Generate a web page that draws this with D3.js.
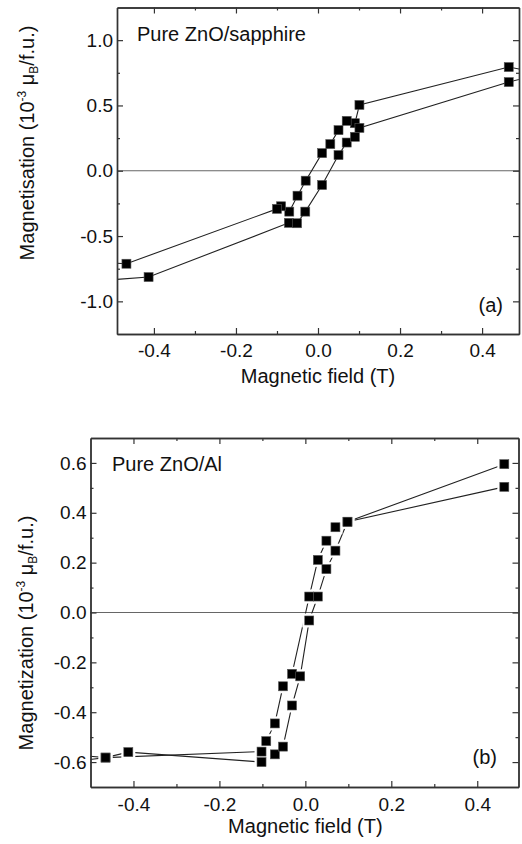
<!DOCTYPE html>
<html>
<head>
<meta charset="utf-8">
<script src="https://cdn.jsdelivr.net/npm/d3@7"></script>
<style>
  body { margin: 0; background: #fff; }
  svg { display: block; font-family: "Liberation Sans", Arial, sans-serif; }
  .axis path, .axis line { stroke: #333; }
  .axis text { font-size: 19px; fill: #111; font-family: "Liberation Sans", Arial, sans-serif; }
</style>
</head>
<body>
<svg id="chart"></svg>
<script>
var width = 522;
var height = 844;

// (a) pure ZnO on sapphire, field sweep down then up (first/last points sit past the frame)
var fieldA_down = [0.55, 0.465, 0.101, 0.09, 0.07, 0.05, 0.03, 0.01, -0.03, -0.05, -0.07, -0.09, -0.10, -0.467, -0.55];
var magA_down   = [0.745, 0.794, 0.504, 0.364, 0.382, 0.311, 0.204, 0.135, -0.076, -0.191, -0.313, -0.272, -0.292, -0.712, -0.70];
var fieldA_up   = [-0.55, -0.413, -0.071, -0.051, -0.031, 0.01, 0.05, 0.07, 0.09, 0.101, 0.465, 0.55];
var magA_up     = [-0.845, -0.814, -0.399, -0.402, -0.313, -0.109, 0.120, 0.216, 0.260, 0.328, 0.679, 0.745];

// (b) pure ZnO on Al
var fieldB_down = [0.463, 0.098, 0.070, 0.049, 0.029, 0.009, -0.031, -0.052, -0.071, -0.091, -0.102, -0.465, -0.55];
var magB_down   = [0.595, 0.364, 0.342, 0.288, 0.211, 0.064, -0.246, -0.296, -0.445, -0.516, -0.558, -0.582, -0.600];
var fieldB_up   = [-0.55, -0.465, -0.412, -0.102, -0.071, -0.052, -0.031, -0.012, 0.009, 0.029, 0.049, 0.070, 0.098, 0.463];
var magB_up     = [-0.570, -0.582, -0.560, -0.600, -0.569, -0.538, -0.373, -0.256, -0.032, 0.064, 0.174, 0.248, 0.364, 0.504];

var xMajor = [-0.4, -0.2, 0.0, 0.2, 0.4];
var xMinor = [-0.3, -0.1, 0.1, 0.3];
var yMajorA = [-1.0, -0.5, 0.0, 0.5, 1.0];
var yMinorA = [-0.75, -0.25, 0.25, 0.75];
var yMajorB = [-0.6, -0.4, -0.2, 0.0, 0.2, 0.4, 0.6];
var yMinorB = [-0.5, -0.3, -0.1, 0.1, 0.3, 0.5];

var svg = d3.select('#chart').attr('width', width).attr('height', height);

function zip(xs, ys) {
  return xs.map(function(d, i) { return [d, ys[i]]; });
}

drawPanel({
  id: 'a',
  left: 117, right: 519, top: 7.5, bottom: 334,
  xDomain: [-0.49, 0.49], yDomain: [-1.25, 1.25],
  yMajor: yMajorA, yMinor: yMinorA,
  series: [zip(fieldA_down, magA_down), zip(fieldA_up, magA_up)],
  gap: false,
  yWord: 'Magnetisation', yLabelX: 34, yLabelY: 143,
  xTitleY: 383, tickPad: 10,
  name: 'Pure ZnO/sapphire', nameX: 137, nameY: 41,
  tag: '(a)', tagX: 503, tagY: 312
});

drawPanel({
  id: 'b',
  left: 90.5, right: 518.5, top: 438, bottom: 787,
  xDomain: [-0.5, 0.496], yDomain: [-0.7, 0.7],
  yMajor: yMajorB, yMinor: yMinorB,
  series: [zip(fieldB_down, magB_down), zip(fieldB_up, magB_up)],
  gap: true,
  yWord: 'Magnetization', yLabelX: 33, yLabelY: 633,
  xTitleY: 833, tickPad: 11,
  name: 'Pure ZnO/Al', nameX: 112, nameY: 471,
  tag: '(b)', tagX: 497, tagY: 764
});

function drawPanel(p) {
  var x = d3.scaleLinear().domain(p.xDomain).range([p.left, p.right]);
  var y = d3.scaleLinear().domain(p.yDomain).range([p.bottom, p.top]);
  var g = svg.append('g').attr('id', 'panel' + p.id);

  g.append('clipPath').attr('id', 'clip' + p.id)
    .append('rect')
    .attr('x', p.left).attr('y', p.top)
    .attr('width', p.right - p.left).attr('height', p.bottom - p.top);

  // zero line
  g.append('line')
    .attr('x1', p.left).attr('x2', p.right)
    .attr('y1', y(0)).attr('y2', y(0))
    .attr('stroke', '#666').attr('stroke-width', 1.2);

  var plot = g.append('g').attr('clip-path', 'url(#clip' + p.id + ')');
  var line = d3.line().x(function(d) { return x(d[0]); }).y(function(d) { return y(d[1]); });

  p.series.forEach(function(s) {
    plot.append('path').datum(s)
      .attr('d', line)
      .attr('fill', 'none')
      .attr('stroke', '#222')
      .attr('stroke-width', 1.1);
  });

  var sz = 9;
  p.series.forEach(function(s) {
    if (p.gap) {
      plot.selectAll(null).data(s).enter().append('rect')
        .attr('x', function(d) { return x(d[0]) - sz / 2 - 2.5; })
        .attr('y', function(d) { return y(d[1]) - sz / 2 - 2.5; })
        .attr('width', sz + 5).attr('height', sz + 5)
        .attr('fill', '#fff');
    }
  });
  p.series.forEach(function(s) {
    plot.selectAll(null).data(s).enter().append('rect')
      .attr('x', function(d) { return x(d[0]) - sz / 2; })
      .attr('y', function(d) { return y(d[1]) - sz / 2; })
      .attr('width', sz).attr('height', sz)
      .attr('fill', '#000')
      .attr('stroke', '#555').attr('stroke-width', 0.6);
  });

  // axes, ticks pointing inward on all four sides
  var fmt = function(v) { return d3.format('.1f')(v).replace('\u2212', '-'); };
  function put(axis, tx, ty) {
    var a = g.append('g').attr('class', 'axis')
      .attr('transform', 'translate(' + tx + ',' + ty + ')')
      .call(axis);
    a.selectAll('path').attr('stroke-width', 1.4);
    a.selectAll('line').attr('stroke-width', 1.2);
    return a;
  }
  put(d3.axisBottom(x).tickValues(xMajor).tickFormat(fmt).tickSizeInner(-6).tickSizeOuter(0).tickPadding(p.tickPad), 0, p.bottom);
  put(d3.axisBottom(x).tickValues(xMinor).tickFormat('').tickSizeInner(-3).tickSizeOuter(0), 0, p.bottom);
  put(d3.axisTop(x).tickValues(xMajor).tickFormat('').tickSizeInner(-6).tickSizeOuter(0), 0, p.top);
  put(d3.axisTop(x).tickValues(xMinor).tickFormat('').tickSizeInner(-3).tickSizeOuter(0), 0, p.top);
  put(d3.axisLeft(y).tickValues(p.yMajor).tickFormat(fmt).tickSizeInner(-6).tickSizeOuter(0).tickPadding(4), p.left, 0);
  put(d3.axisLeft(y).tickValues(p.yMinor).tickFormat('').tickSizeInner(-3).tickSizeOuter(0), p.left, 0);
  put(d3.axisRight(y).tickValues(p.yMajor).tickFormat('').tickSizeInner(-6).tickSizeOuter(0), p.right, 0);
  put(d3.axisRight(y).tickValues(p.yMinor).tickFormat('').tickSizeInner(-3).tickSizeOuter(0), p.right, 0);

  // titles
  g.append('text')
    .attr('x', x(0)).attr('y', p.xTitleY)
    .attr('text-anchor', 'middle')
    .attr('font-size', 20).attr('fill', '#111')
    .text('Magnetic field (T)');

  var yl = g.append('text')
    .attr('transform', 'translate(' + p.yLabelX + ',' + p.yLabelY + ') rotate(-90)')
    .attr('text-anchor', 'middle')
    .attr('font-size', 20).attr('fill', '#111');
  yl.append('tspan').text(p.yWord + ' (10');
  yl.append('tspan').attr('font-size', 12).attr('dy', -8).text('-3');
  yl.append('tspan').attr('dy', 8).text(' \u03bc');
  yl.append('tspan').attr('font-size', 12).attr('dy', 4).text('B');
  yl.append('tspan').attr('dy', -4).text('/f.u.)');

  g.append('text')
    .attr('x', p.nameX).attr('y', p.nameY)
    .attr('font-size', 20).attr('fill', '#111')
    .text(p.name);

  g.append('text')
    .attr('x', p.tagX).attr('y', p.tagY)
    .attr('text-anchor', 'end')
    .attr('font-size', 20).attr('fill', '#111')
    .text(p.tag);
}
</script>
</body>
</html>
